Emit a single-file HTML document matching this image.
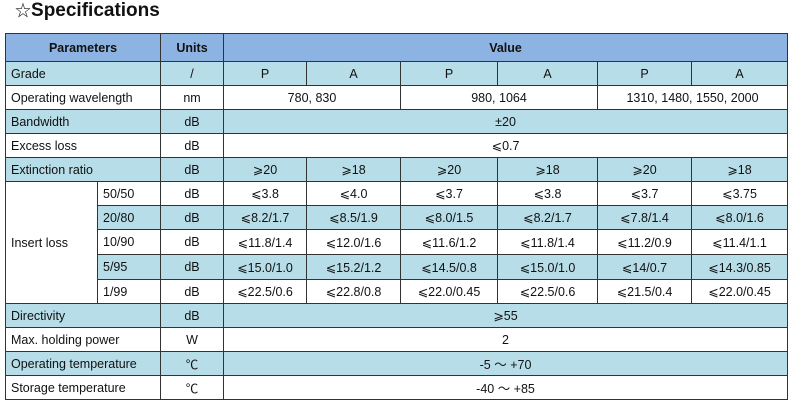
<!DOCTYPE html>
<html><head><meta charset="utf-8"><style>
body{margin:0;background:#fff;width:792px;height:405px;overflow:hidden;font-family:"Liberation Sans","Noto Sans CJK SC",sans-serif;}
h1{position:absolute;left:15px;top:0;margin:0;font-size:19px;font-weight:bold;line-height:22px;color:#111}
h1 span{font-size:16px;font-weight:normal}
table{position:absolute;left:5px;top:33px;border-collapse:collapse;table-layout:fixed;width:782px;font-size:12.5px;color:#111}
td{border:1px solid #333;height:23px;padding:0;text-align:center;white-space:nowrap;overflow:hidden}
tr.h td{background:#8db3e2;font-weight:bold;height:27px;font-size:12.5px}
tr.t td{height:24px}
.b td,td.b{background:#b7dde8}
.w td{background:#fff}
td.l{text-align:left;padding-left:5px}
td.wt{background:#fff!important}
</style></head><body>
<h1><span>☆</span>Specifications</h1>
<table>
<colgroup><col style="width:92px"><col style="width:63px"><col style="width:63px"><col style="width:83px"><col style="width:94px"><col style="width:97px"><col style="width:100px"><col style="width:94px"><col style="width:96px"></colgroup>
<tr class="h"><td colspan="2">Parameters</td><td>Units</td><td colspan="6">Value</td></tr>
<tr class="b"><td colspan="2" class="l">Grade</td><td>/</td><td>P</td><td>A</td><td>P</td><td>A</td><td>P</td><td>A</td></tr>
<tr class="w"><td colspan="2" class="l">Operating wavelength</td><td>nm</td><td colspan="2">780, 830</td><td colspan="2">980, 1064</td><td colspan="2">1310, 1480, 1550, 2000</td></tr>
<tr class="b"><td colspan="2" class="l">Bandwidth</td><td>dB</td><td colspan="6">±20</td></tr>
<tr class="w"><td colspan="2" class="l">Excess loss</td><td>dB</td><td colspan="6">⩽0.7</td></tr>
<tr class="b"><td colspan="2" class="l">Extinction ratio</td><td>dB</td><td>⩾20</td><td>⩾18</td><td>⩾20</td><td>⩾18</td><td>⩾20</td><td>⩾18</td></tr>
<tr class="w"><td rowspan="5" class="l wt">Insert loss</td><td class="l">50/50</td><td>dB</td><td>⩽3.8</td><td>⩽4.0</td><td>⩽3.7</td><td>⩽3.8</td><td>⩽3.7</td><td>⩽3.75</td></tr>
<tr class="b"><td class="l">20/80</td><td>dB</td><td>⩽8.2/1.7</td><td>⩽8.5/1.9</td><td>⩽8.0/1.5</td><td>⩽8.2/1.7</td><td>⩽7.8/1.4</td><td>⩽8.0/1.6</td></tr>
<tr class="w t"><td class="l">10/90</td><td>dB</td><td>⩽11.8/1.4</td><td>⩽12.0/1.6</td><td>⩽11.6/1.2</td><td>⩽11.8/1.4</td><td>⩽11.2/0.9</td><td>⩽11.4/1.1</td></tr>
<tr class="b t"><td class="l">5/95</td><td>dB</td><td>⩽15.0/1.0</td><td>⩽15.2/1.2</td><td>⩽14.5/0.8</td><td>⩽15.0/1.0</td><td>⩽14/0.7</td><td>⩽14.3/0.85</td></tr>
<tr class="w"><td class="l">1/99</td><td>dB</td><td>⩽22.5/0.6</td><td>⩽22.8/0.8</td><td>⩽22.0/0.45</td><td>⩽22.5/0.6</td><td>⩽21.5/0.4</td><td>⩽22.0/0.45</td></tr>
<tr class="b"><td colspan="2" class="l">Directivity</td><td>dB</td><td colspan="6">⩾55</td></tr>
<tr class="w"><td colspan="2" class="l">Max. holding power</td><td>W</td><td colspan="6">2</td></tr>
<tr class="b"><td colspan="2" class="l">Operating temperature</td><td>℃</td><td colspan="6">-5 ～ +70</td></tr>
<tr class="w"><td colspan="2" class="l">Storage temperature</td><td>℃</td><td colspan="6">-40 ～ +85</td></tr>
</table>
</body></html>
